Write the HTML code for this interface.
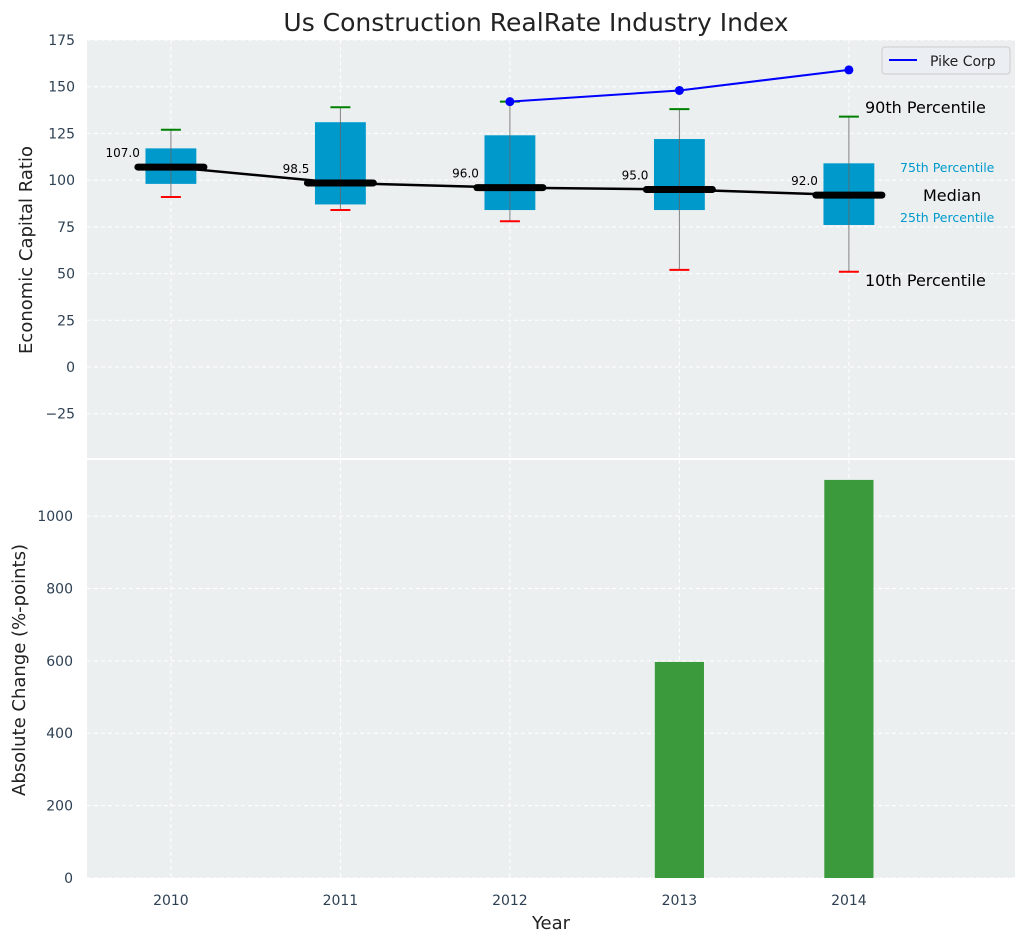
<!DOCTYPE html>
<html><head><meta charset="utf-8"><style>
body{margin:0;background:#fff;}
svg{display:block;font-family:"DejaVu Sans","Liberation Sans",sans-serif;}
</style></head><body>
<svg id="c" width="1026" height="942" xmlns="http://www.w3.org/2000/svg"></svg>
<script>
const years=[2010,2011,2012,2013,2014];
const p10=[91,84,78,52,51];
const q1=[98,87,84,84,76];
const med=[107,98.5,96,95,92];
const q3=[117,131,124,122,109];
const p90=[127,139,142,138,134];
const pikeYears=[2012,2013,2014];
const pikeVals=[142,148,159];
const changeVals=[0,0,0,597,1100];
const topTicks=[-25,0,25,50,75,100,125,150,175];
const botTicks=[0,200,400,600,800,1000];

const NS="http://www.w3.org/2000/svg";
const svg=document.getElementById('c');
function el(t,a,p){const e=document.createElementNS(NS,t);for(const k in a)e.setAttribute(k,a[k]);(p||svg).appendChild(e);return e;}
const L=87,R=1015;
const X0=2009.505,X1=2014.98;
const x=v=>L+(v-X0)/(X1-X0)*(R-L);
const T0=40,T1=458;
const yt=v=>T1-(v+48.7)/(175+48.7)*(T1-T0);
const B0=460,B1=878;
const yb=v=>B1-v/1155*(B1-B0);

let e=el('rect',{x:L,y:T0,width:R-L,height:T1-T0,fill:'#ebeff0'});

e=el('rect',{x:L,y:B0,width:R-L,height:B1-B0,fill:'#ebeff0'});


years.forEach(v=>{
  el('line',{x1:x(v),x2:x(v),y1:T0,y2:T1,stroke:'#fff','stroke-dasharray':'4,3','stroke-width':1});
  el('line',{x1:x(v),x2:x(v),y1:B0,y2:B1,stroke:'#fff','stroke-dasharray':'4,3','stroke-width':1});
});
topTicks.forEach(v=>{
  el('line',{x1:L,x2:R,y1:yt(v),y2:yt(v),stroke:'#fff','stroke-dasharray':'4,3'});
  const t=el('text',{x:L-12,y:yt(v)+5,'text-anchor':'end','font-size':14,fill:'#2e4053'});t.textContent=v<0?'\u221225':v;
  
});
botTicks.forEach(v=>{
  el('line',{x1:L,x2:R,y1:yb(v),y2:yb(v),stroke:'#fff','stroke-dasharray':'4,3'});
  const t=el('text',{x:L-14,y:yb(v)+5,'text-anchor':'end','font-size':14,fill:'#2e4053'});t.textContent=v;
  
});
years.forEach(v=>{
  const t=el('text',{x:x(v),y:905,'text-anchor':'middle','font-size':14,fill:'#2e4053'});t.textContent=v;
  
});
el('line',{x1:L,x2:R,y1:459,y2:459,stroke:'#fff','stroke-width':2});

const bw=0.3;
years.forEach((v,i)=>{
  const g=el('g',{});
  
  el('rect',{x:x(v-bw/2),y:yt(q3[i]),width:x(v+bw/2)-x(v-bw/2),height:yt(q1[i])-yt(q3[i]),fill:'#0099cc'},g);
  el('line',{x1:x(v),x2:x(v),y1:yt(p90[i]),y2:yt(p10[i]),stroke:'#666','stroke-width':1,opacity:0.8},g);
  el('line',{x1:x(v)-10,x2:x(v)+10,y1:yt(p90[i]),y2:yt(p90[i]),stroke:'green','stroke-width':2},g);
  el('line',{x1:x(v)-10,x2:x(v)+10,y1:yt(p10[i]),y2:yt(p10[i]),stroke:'red','stroke-width':2},g);
});
e=el('polyline',{points:years.map((v,i)=>x(v)+','+yt(med[i])).join(' '),fill:'none',stroke:'#000','stroke-width':2.5});

years.forEach((v,i)=>{
  el('line',{x1:x(v)-33,x2:x(v)+33,y1:yt(med[i]),y2:yt(med[i]),stroke:'#000','stroke-width':7,'stroke-linecap':'round'});
  const t=el('text',{x:x(v)-31,y:yt(med[i])-10,'text-anchor':'end','font-size':12,fill:'#000'});t.textContent=med[i].toFixed(1);
  
});
e=el('polyline',{points:pikeYears.map((v,i)=>x(v)+','+yt(pikeVals[i])).join(' '),fill:'none',stroke:'blue','stroke-width':2});

pikeYears.forEach((v,i)=>{const c=el('circle',{cx:x(v),cy:yt(pikeVals[i]),r:4.5,fill:'blue'});
});

[['90th Percentile',865,113,16,'#000'],['75th Percentile',900,172,12.5,'#0099cc'],['Median',923,201,16,'#000'],['25th Percentile',900,222,12.5,'#0099cc'],['10th Percentile',865,286,16,'#000']].forEach(a=>{
  const t=el('text',{x:a[1],y:a[2],'font-size':a[3],fill:a[4]});t.textContent=a[0];
  
});

const lg=el('g',{});
el('rect',{x:882,y:47,width:128,height:27,rx:3,fill:'#ebeef2',stroke:'#ccc'},lg);
el('line',{x1:889,x2:917,y1:60,y2:60,stroke:'blue','stroke-width':2},lg);
let t=el('text',{x:930,y:66,'font-size':14,fill:'#222'},lg);t.textContent='Pike Corp';

const bbw=0.29;
years.forEach((v,i)=>{
  if(changeVals[i]<=0)return;
  const r=el('rect',{x:x(v-bbw/2),y:yb(changeVals[i]),width:x(v+bbw/2)-x(v-bbw/2),height:yb(0)-yb(changeVals[i]),fill:'#3a9a3c'});
  
});

t=el('text',{x:536,y:31,'text-anchor':'middle','font-size':25,fill:'#222'});t.textContent='Us Construction RealRate Industry Index';

t=el('text',{x:0,y:0,'text-anchor':'middle','font-size':18,fill:'#222',transform:'translate(32,250) rotate(-90)'});t.textContent='Economic Capital Ratio';

t=el('text',{x:0,y:0,'text-anchor':'middle','font-size':18,fill:'#222',transform:'translate(25,670) rotate(-90)'});t.textContent='Absolute Change (%-points)';

t=el('text',{x:551,y:929,'text-anchor':'middle','font-size':18,fill:'#222'});t.textContent='Year';

</script>
</body></html>
